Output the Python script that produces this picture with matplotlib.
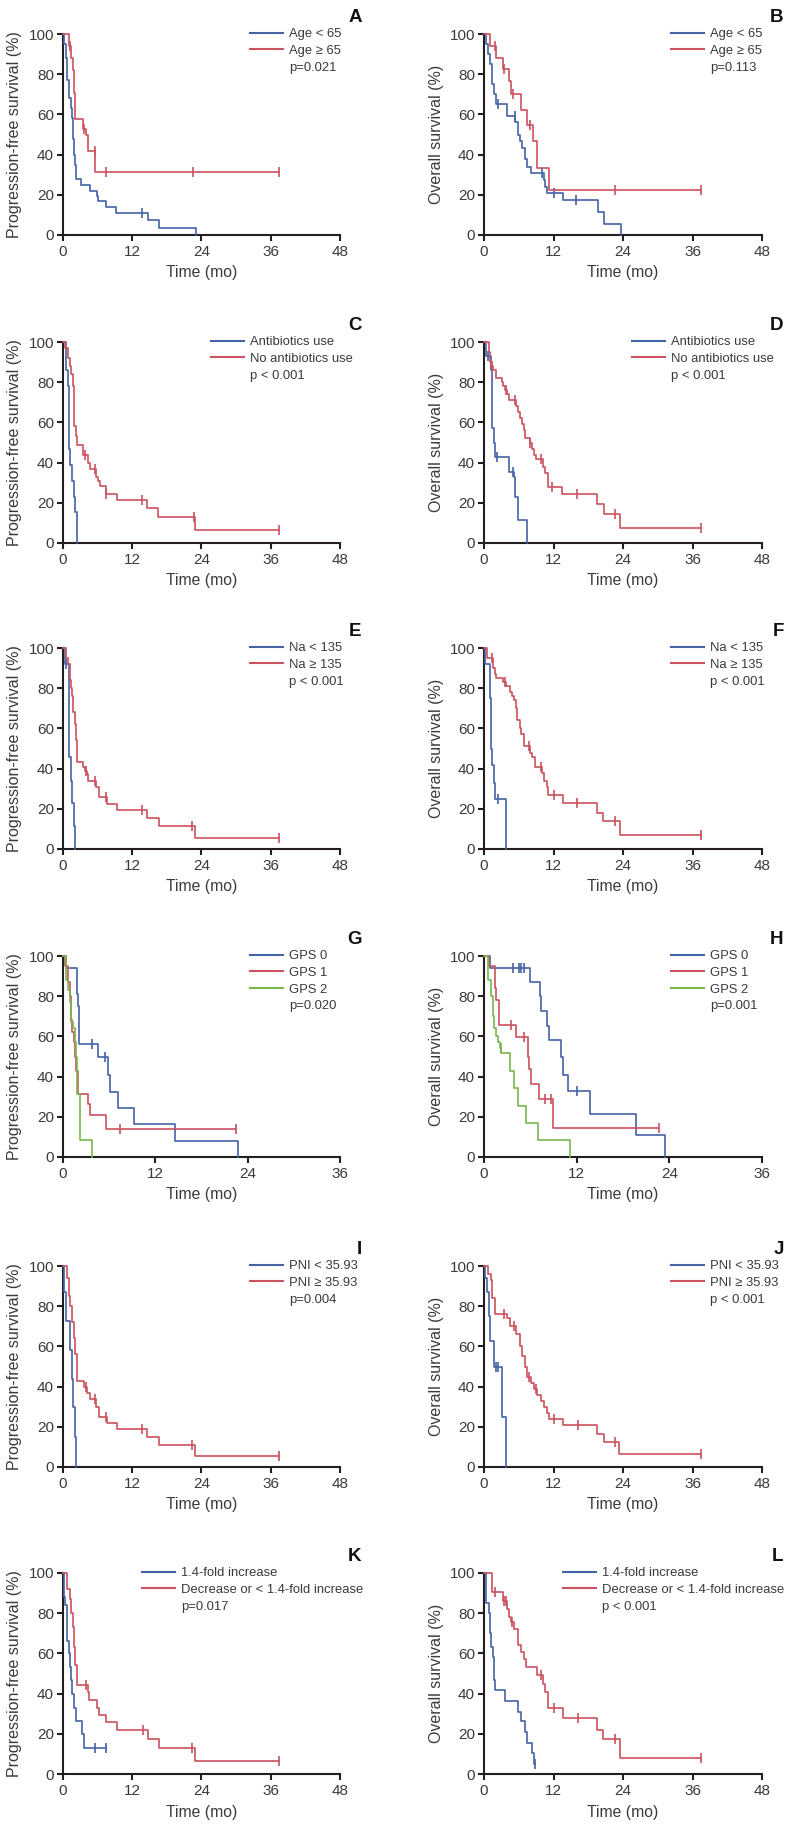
import matplotlib
matplotlib.use('Agg')
import matplotlib.pyplot as plt
from matplotlib.lines import Line2D
import numpy as np

plt.rcParams['font.family'] = ['Liberation Sans', 'DejaVu Sans']

BLUE = '#4462a6'
RED = '#cb525e'
GREEN = '#78b84c'
INK = '#3a3a3a'
AXC = '#231f20'

# ---- data (time in months, survival in %) ----
# A: PFS by age
a_lo_t = [0, 0.2, 0.5, 0.75, 1.1, 1.3, 1.55, 1.75, 1.95, 2.1, 2.3, 3.2, 4.6, 5.9, 6.1, 7.4, 9.2, 14.7, 16.6, 23.0]
a_lo_s = [100, 95, 88, 77, 68, 63, 58, 48, 40, 35, 27.8, 25, 21.9, 19.4, 16.7, 13.9, 11.1, 7.4, 3.7, 0]
a_lo_c = [13.7]
a_hi_t = [0, 1.0, 1.3, 1.7, 1.9, 2.0, 3.5, 3.9, 4.3, 5.6]
a_hi_s = [100, 94, 88.2, 82.1, 70.6, 57.5, 52.9, 50.0, 41.8, 31.3]
a_hi_c = [1.2, 3.7, 5.5, 7.5, 22.6, 37.5]

# B: OS by age
b_lo_t = [0, 0.4, 0.7, 1.1, 1.4, 1.7, 2.0, 3.9, 5.4, 5.9, 6.2, 6.6, 7.0, 7.45, 8.2, 10.3, 10.6, 10.9, 13.7, 19.6, 20.7, 23.6]
b_lo_s = [100, 95, 90, 85, 75, 70, 65.2, 59, 56, 50, 47, 43.5, 38, 34, 31, 27.6, 24, 20.7, 17.2, 11.6, 5.4, 0]
b_lo_c = [2.5, 5.3, 10.0, 12.1, 15.8]
b_hi_t = [0, 1.0, 2.1, 3.3, 4.4, 4.6, 6.35, 7.45, 8.5, 9.1, 11.25]
b_hi_s = [100, 94.1, 88.2, 82.4, 76.5, 70.1, 62.4, 54.6, 46.8, 33.4, 22.3]
b_hi_c = [1.85, 3.5, 5.0, 7.9, 22.6, 37.5]

# C: PFS by antibiotics
c_ab_t = [0, 0.6, 0.85, 1.0, 1.15, 1.6, 1.95, 2.1, 2.4]
c_ab_s = [100, 86, 78, 47, 39, 31, 23, 15.5, 0]
c_ab_c = []
c_no_t = [0, 0.3, 0.9, 1.15, 1.45, 1.7, 1.85, 1.95, 2.2, 2.4, 3.45, 4.3, 4.75, 5.8, 6.1, 6.35, 7.4, 9.35, 14.6, 16.45, 22.9]
c_no_s = [100, 97, 92, 88, 84, 78, 68, 58, 53, 48.7, 44, 40, 37, 33, 31, 28.5, 24.6, 21.6, 17.3, 13.0, 6.7]
c_no_c = [3.75, 5.5, 7.5, 13.75, 22.7, 37.4]

# D: OS by antibiotics
d_ab_t = [0, 0.4, 1.15, 1.3, 1.4, 1.7, 1.95, 4.3, 5.2, 5.4, 5.9, 7.5]
d_ab_s = [100, 93, 86, 79, 57, 50, 43, 35.5, 33, 23, 11.5, 0]
d_ab_c = [0.7, 2.3, 5.0]
d_no_t = [0, 0.8, 1.0, 1.25, 1.6, 2.0, 3.1, 3.3, 3.6, 3.9, 4.3, 5.6, 5.9, 6.2, 6.6, 6.9, 7.15, 7.9, 8.3,
          8.65, 9.05, 10.2, 10.5, 11.1, 13.4, 19.55, 20.7, 23.4]
d_no_s = [100, 95, 90, 88, 86, 82, 80, 78, 76, 74, 71, 68, 65, 62, 59, 56, 52, 50, 47,
          44, 42, 38, 35, 28, 24.6, 19.4, 14.5, 7.5]
d_no_c = [1.4, 3.8, 5.3, 7.95, 9.9, 11.7, 16.1, 22.6, 37.5]

# E: PFS by sodium
e_lo_t = [0, 0.3, 1.0, 1.3, 1.6, 1.85, 2.0]
e_lo_s = [100, 92, 46, 34, 23, 11.5, 0]
e_lo_c = [0.6]
e_hi_t = [0, 0.6, 0.9, 1.15, 1.45, 1.6, 1.7, 2.0, 2.2, 2.4, 3.45, 3.75, 4.15, 4.35, 5.8, 6.2, 7.6, 9.35, 14.6, 16.6, 22.8]
e_hi_s = [100, 95, 92, 84, 80, 76, 68, 62, 54, 43.5, 41, 39, 37.5, 34, 31, 25.7, 22.5, 19.5, 15.5, 11.2, 5.5]
e_hi_c = [3.9, 5.5, 7.5, 13.75, 22.4, 37.4]

# F: OS by sodium
f_lo_t = [0, 0.25, 1.0, 1.15, 1.25, 1.45, 1.75, 1.85, 3.75, 3.85]
f_lo_s = [100, 92, 75, 66, 50, 42, 33, 25, 12.5, 0]
f_lo_c = [2.5]
f_hi_t = [0, 0.6, 1.55, 1.85, 2.15, 3.3, 3.85, 4.45, 4.8, 5.2, 5.45, 5.75, 6.2, 6.45, 6.9, 7.9, 8.3, 8.75,
          10.1, 10.3, 10.8, 11.1, 13.7, 19.55, 20.6, 23.5]
f_hi_s = [100, 95, 90, 87, 85, 83, 81, 78, 76, 74, 70, 64, 60, 57, 51, 48, 46, 41,
          38, 34, 31, 27, 23, 18, 14, 7]
f_hi_c = [1.3, 3.6, 7.7, 9.9, 12.0, 16.0, 22.6, 37.5]

# G: PFS by GPS
g_0_t = [0, 0.43, 1.82, 1.95, 2.05, 2.1, 4.55, 5.85, 6.15, 7.2, 9.2, 14.6, 22.8]
g_0_s = [100, 94, 81, 75, 62, 56, 50, 41, 32.5, 24.5, 16.3, 8.2, 0]
g_0_c = [3.8, 5.4]
g_1_t = [0, 0.3, 0.65, 0.87, 1.0, 1.2, 1.4, 1.55, 1.73, 1.95, 3.25, 3.55, 5.55]
g_1_s = [100, 95, 87, 80, 68, 62, 57, 50, 43, 31.5, 26.5, 20.7, 13.8]
g_1_c = [7.45, 22.5]
g_2_t = [0, 0.35, 0.6, 0.87, 1.1, 1.3, 1.5, 1.65, 1.82, 2.17, 3.8]
g_2_s = [100, 88, 83, 77, 67, 64, 57, 50, 31.5, 8.3, 0]
g_2_c = []

# H: OS by GPS
h_0_t = [0, 0.75, 5.9, 7.3, 7.4, 8.2, 8.45, 10.0, 10.25, 10.9, 13.7, 19.65, 23.5]
h_0_s = [100, 94, 87, 80, 72.5, 65, 58, 50, 41, 33, 21.5, 10.8, 0]
h_0_c = [3.8, 4.5, 4.75, 5.2, 12.0]
h_1_t = [0, 0.6, 1.4, 1.6, 1.9, 4.2, 5.7, 5.8, 6.15, 7.1, 8.95]
h_1_s = [100, 95, 84, 78, 65.5, 59.5, 50, 44, 36.5, 29, 14.5]
h_1_c = [3.45, 5.2, 7.9, 8.7, 22.6]
h_2_t = [0, 0.5, 0.95, 1.15, 1.3, 1.5, 1.75, 2.05, 2.25, 3.35, 3.85, 4.4, 5.4, 7.0, 11.2]
h_2_s = [100, 88, 80, 70, 64, 60, 57, 54, 51.5, 43, 34.5, 25.5, 17, 8.5, 0]
h_2_c = [2.15]

# I: PFS by PNI
i_lo_t = [0, 0.15, 0.58, 1.15, 1.55, 1.73, 2.0, 2.3]
i_lo_s = [100, 87, 72.5, 58, 44, 30, 15, 0]
i_lo_c = []
i_hi_t = [0, 0.75, 1.0, 1.27, 1.56, 1.85, 2.0, 2.43, 3.6, 4.15, 4.75, 5.8, 6.2, 7.6, 9.35, 14.6, 16.6, 22.8]
i_hi_s = [100, 94, 85, 80, 72, 64, 56, 43, 40, 37, 34, 30, 25, 22, 19, 15, 11, 5.5]
i_hi_c = [3.9, 5.5, 7.5, 13.7, 22.4, 37.4]

# J: OS by PNI
j_lo_t = [0, 0.25, 0.45, 0.8, 1.1, 1.73, 3.17, 3.85]
j_lo_s = [100, 94, 87, 75, 62.5, 50, 25, 0]
j_lo_c = [2.0, 2.4]
j_hi_t = [0, 0.7, 1.15, 1.4, 1.85, 3.9, 4.45, 5.6, 6.2, 6.6, 7.0, 7.45, 8.2, 8.65, 9.2, 9.9, 10.3, 10.8,
          11.2, 13.7, 19.55, 20.7, 23.3]
j_hi_s = [100, 96, 93, 84, 76, 74, 70, 66, 60, 55, 50, 45, 42, 39, 36, 33, 30, 27,
          24, 21, 16.5, 12.5, 6.3]
j_hi_c = [3.45, 5.2, 7.8, 9.05, 12.1, 16.2, 22.6, 37.5]

# K: PFS by NLR change
k_lo_t = [0, 0.1, 0.4, 0.75, 1.0, 1.27, 1.45, 1.62, 1.85, 2.2, 3.3, 3.6]
k_lo_s = [100, 88, 84, 66, 60, 53, 47, 40, 33, 26.5, 20, 13]
k_lo_c = [5.5, 7.5]
k_hi_t = [0, 0.75, 1.15, 1.45, 1.73, 1.9, 2.15, 2.43, 4.35, 4.5, 5.95, 6.2, 7.4, 9.35, 14.7, 16.6, 22.8]
k_hi_s = [100, 92, 87, 80, 73, 63, 54, 44.5, 41, 37, 33, 29.5, 26, 21.7, 17.4, 13, 6.6]
k_hi_c = [4.05, 13.9, 22.4, 37.5]

# L: OS by NLR change
l_lo_t = [0, 0.4, 0.85, 1.1, 1.27, 1.55, 1.8, 1.96, 3.7, 5.9, 6.35, 7.15, 7.5, 8.3, 8.65]
l_lo_s = [100, 85, 80, 70, 63, 58, 47, 42, 36.5, 31, 26.5, 21, 15.5, 10.5, 5]
l_lo_c = [8.8]
l_hi_t = [0, 1.45, 3.3, 4.05, 4.3, 4.6, 5.2, 5.9, 6.35, 6.9, 7.3, 9.2, 10.2, 10.5, 11.0, 13.7, 19.55, 20.6, 23.4]
l_hi_s = [100, 90.5, 86, 82, 78, 75.5, 72, 64, 60.5, 57, 53, 49.5, 45, 41, 33, 28, 22, 17.5, 8]
l_hi_c = [1.85, 3.5, 3.75, 4.9, 9.9, 12.1, 16.2, 22.6, 37.5]

age_labels = ['Age < 65', 'Age \u2265 65']
abx_labels = ['Antibiotics use', 'No antibiotics use']
na_labels = ['Na < 135', 'Na \u2265 135']
gps_labels = ['GPS 0', 'GPS 1', 'GPS 2']
pni_labels = ['PNI < 35.93', 'PNI \u2265 35.93']
nlr_labels = ['1.4-fold increase', 'Decrease or < 1.4-fold increase']

PFS = 'Progression-free survival (%)'
OS = 'Overall survival (%)'

panels = [
    ('A', PFS, 48, age_labels, 'p=0.021', [(a_lo_t, a_lo_s, a_lo_c), (a_hi_t, a_hi_s, a_hi_c)], 0.675),
    ('B', OS, 48, age_labels, 'p=0.113', [(b_lo_t, b_lo_s, b_lo_c), (b_hi_t, b_hi_s, b_hi_c)], 0.673),
    ('C', PFS, 48, abx_labels, 'p < 0.001', [(c_ab_t, c_ab_s, c_ab_c), (c_no_t, c_no_s, c_no_c)], 0.534),
    ('D', OS, 48, abx_labels, 'p < 0.001', [(d_ab_t, d_ab_s, d_ab_c), (d_no_t, d_no_s, d_no_c)], 0.532),
    ('E', PFS, 48, na_labels, 'p < 0.001', [(e_lo_t, e_lo_s, e_lo_c), (e_hi_t, e_hi_s, e_hi_c)], 0.675),
    ('F', OS, 48, na_labels, 'p < 0.001', [(f_lo_t, f_lo_s, f_lo_c), (f_hi_t, f_hi_s, f_hi_c)], 0.673),
    ('G', PFS, 36, gps_labels, 'p=0.020', [(g_0_t, g_0_s, g_0_c), (g_1_t, g_1_s, g_1_c), (g_2_t, g_2_s, g_2_c)], 0.675),
    ('H', OS, 36, gps_labels, 'p=0.001', [(h_0_t, h_0_s, h_0_c), (h_1_t, h_1_s, h_1_c), (h_2_t, h_2_s, h_2_c)], 0.673),
    ('I', PFS, 48, pni_labels, 'p=0.004', [(i_lo_t, i_lo_s, i_lo_c), (i_hi_t, i_hi_s, i_hi_c)], 0.675),
    ('J', OS, 48, pni_labels, 'p < 0.001', [(j_lo_t, j_lo_s, j_lo_c), (j_hi_t, j_hi_s, j_hi_c)], 0.673),
    ('K', PFS, 48, nlr_labels, 'p=0.017', [(k_lo_t, k_lo_s, k_lo_c), (k_hi_t, k_hi_s, k_hi_c)], 0.285),
    ('L', OS, 48, nlr_labels, 'p < 0.001', [(l_lo_t, l_lo_s, l_lo_c), (l_hi_t, l_hi_s, l_hi_c)], 0.284),
]

colors = [BLUE, RED, GREEN]


def km(ax, t, s, c, color):
    if s[-1] > 0:
        end = max(list(c) + [t[-1]])
        x = list(t) + [end]
        y = list(s) + [s[-1]]
    else:
        x, y = t, s
    ax.step(x, y, where='post', color=color, lw=1.2, clip_on=False, zorder=3)
    if c:
        idx = np.searchsorted(t, c, side='right') - 1
        cy = [s[i] for i in idx]
        ax.plot(c, cy, ls='none', marker='|', ms=6.5, mew=1.2, color=color, clip_on=False, zorder=3)


W, H = 790, 1829
fig = plt.figure(figsize=(W / 100, H / 100), dpi=100)
col_left = [63, 484]
col_width = [277, 278]
row_top = [34, 342, 648, 956, 1266, 1573]
ax_h = 201

for k, (letter, ylab, xmax, labels, pval, curves, lx) in enumerate(panels):
    r, cidx = divmod(k, 2)
    ax = fig.add_axes([col_left[cidx] / W, 1 - (row_top[r] + ax_h) / H, col_width[cidx] / W, ax_h / H])
    for (t, s, c), col in zip(curves, colors):
        km(ax, t, s, c, col)
    ax.set_xlim(0, xmax)
    ax.set_ylim(0, 100)
    ax.set_xticks(np.arange(0, xmax + 1, 12))
    ax.set_yticks(np.arange(0, 101, 20))
    for sp in ['top', 'right']:
        ax.spines[sp].set_visible(False)
    for sp in ['left', 'bottom']:
        ax.spines[sp].set_linewidth(1.5)
        ax.spines[sp].set_color(AXC)
    ax.tick_params(direction='out', length=4, width=1.5, color=AXC, labelsize=11, labelcolor=INK)
    ax.tick_params(axis='x', pad=3.5)
    ax.tick_params(axis='y', pad=2.5)
    ax.set_ylabel(ylab, fontsize=11.5, color=INK, va='center')
    ax.yaxis.set_label_coords(-48 / col_width[cidx], 0.5)
    ax.set_xlabel('Time (mo)', fontsize=11.3, color=INK, va='center')
    ax.xaxis.set_label_coords(0.5, -38 / ax_h)
    ax.text(1.078, 1.08, letter, transform=ax.transAxes, ha='right', va='center',
            fontsize=13.5, fontweight='bold', color='#111111')
    handles = [Line2D([], [], color=col, lw=1.5) for col in colors[:len(labels)]]
    handles.append(Line2D([], [], color='none'))
    leg = ax.legend(handles, labels + [pval], loc='upper left', bbox_to_anchor=(lx, 1.03),
                    frameon=False, borderpad=0, borderaxespad=0, handlelength=2.5,
                    handletextpad=0.5, labelspacing=0.35, fontsize=9.4)
    for txt in leg.get_texts():
        txt.set_color(INK)

fig.savefig('out.png', dpi=100)
